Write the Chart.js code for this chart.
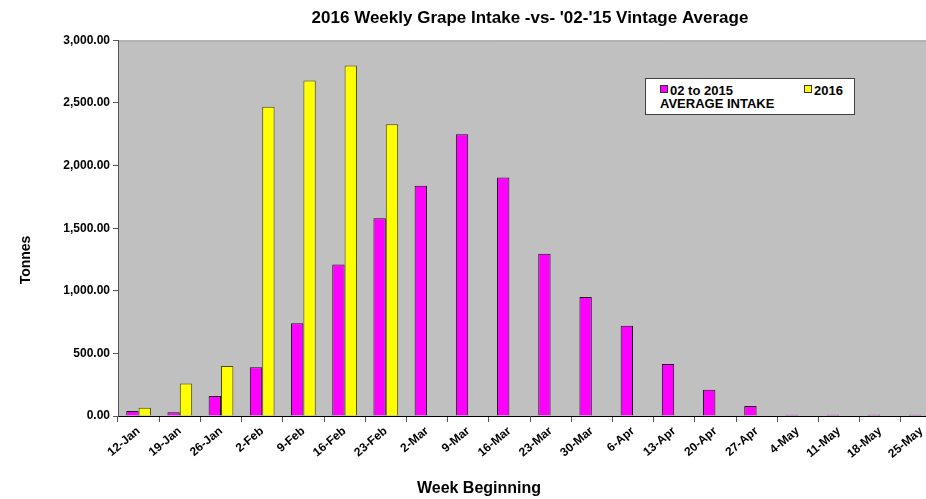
<!DOCTYPE html>
<html>
<head>
<meta charset="utf-8">
<script src="https://cdn.jsdelivr.net/npm/chart.js@4"></script>
<style>
  body { margin: 0; background: #fff; overflow: hidden; }
  #wrap { position: relative; width: 926px; height: 499px; overflow: hidden; }
  #legend {
    position: absolute; left: 645px; top: 78px; width: 208px; height: 35px;
    background: #fff; border: 1px solid #404040;
    font: bold 13px "Liberation Sans", Arial, sans-serif; color: #000;
  }
  #legend .item { position: absolute; top: 5px; line-height: 13px; }
  #legend .sw { display: inline-block; width: 6px; height: 6px; border: 1px solid #333; margin-right: 2px; vertical-align: 2px; }
</style>
</head>
<body>
<div id="wrap">
  <canvas id="chart" width="942" height="499"></canvas>
  <div id="legend"></div>
</div>
<script>
const weeks = ["12-Jan", "19-Jan", "26-Jan", "2-Feb", "9-Feb", "16-Feb", "23-Feb", "2-Mar", "9-Mar",
  "16-Mar", "23-Mar", "30-Mar", "6-Apr", "13-Apr", "20-Apr", "27-Apr", "4-May", "11-May", "18-May", "25-May"];
const avgIntake = [40, 30, 160, 390, 740, 1210, 1580, 1840, 2250, 1905, 1295, 950, 720, 415, 210, 80, 10, 10, 10, 10];
const intake2016 = [65, 260, 400, 2470, 2680, 2800, 2330, null, null, null, null, null, null, null, null, null, null, null, null, null];
const yTicks = [0, 500, 1000, 1500, 2000, 2500, 3000];

const avgLabel = ["02 to 2015", "AVERAGE INTAKE"];
const label2016 = "2016";
const magenta = "#FF00FF";
const yellow = "#FFFF00";

const font = "'Liberation Sans', Arial, sans-serif";

// grey plot background + axis titles placed like the original
const plotBg = {
  id: "plotBg",
  beforeDraw(chart) {
    const { ctx, chartArea: a } = chart;
    ctx.save();
    ctx.fillStyle = "#C0C0C0";
    ctx.fillRect(a.left, a.top, a.right - a.left, a.bottom - a.top);
    ctx.strokeStyle = "#9a9a9a";
    ctx.lineWidth = 1;
    ctx.beginPath();
    ctx.moveTo(a.left, a.top + 0.5);
    ctx.lineTo(a.right, a.top + 0.5);
    ctx.stroke();
    ctx.restore();
  },
  afterDraw(chart) {
    const { ctx, chartArea: a } = chart;
    ctx.save();
    ctx.fillStyle = "#000";
    ctx.font = "bold 16px " + font;
    ctx.textAlign = "center";
    ctx.textBaseline = "middle";
    ctx.fillText("Week Beginning", 479, 489);
    ctx.font = "bold 14px " + font;
    ctx.translate(26, 260);
    ctx.rotate(-Math.PI / 2);
    ctx.fillText("Tonnes", 0, 0);
    ctx.restore();
  }
};

const chart = new Chart(document.getElementById("chart"), {
  type: "bar",
  data: {
    labels: weeks,
    datasets: [{
      label: avgLabel,
      data: avgIntake,
      backgroundColor: magenta,
      borderColor: "#1a0a20",
      borderWidth: 1
    }, {
      label: label2016,
      data: intake2016,
      backgroundColor: yellow,
      borderColor: "#4a4a10",
      borderWidth: 1
    }]
  },
  options: {
    responsive: false,
    animation: false,
    layout: { padding: 0 },
    datasets: { bar: { categoryPercentage: 0.6, barPercentage: 1.0 } },
    plugins: {
      legend: { display: false },
      tooltip: { enabled: false },
      title: {
        display: true,
        fullSize: false,
        text: "2016 Weekly Grape Intake -vs- '02-'15 Vintage Average",
        color: "#000",
        font: { family: font, size: 17, weight: "bold" },
        padding: { top: 8, bottom: 12 }
      }
    },
    scales: {
      x: {
        afterFit(s) { s.height = 83; },
        grid: { drawOnChartArea: false, tickLength: 6, color: "#555", offset: true },
        border: { color: "#000", width: 1 },
        ticks: {
          color: "#000",
          font: { family: font, size: 12, weight: "bold" },
          minRotation: 40, maxRotation: 40, autoSkip: false, padding: 2
        }
      },
      y: {
        min: 0, max: 3000,
        afterFit(s) { s.width = 118; },
        afterBuildTicks(s) { s.ticks = yTicks.map(v => ({ value: v })); },
        grid: { drawOnChartArea: false, tickLength: 5, color: "#555" },
        border: { color: "#555", width: 1 },
        ticks: {
          color: "#000",
          padding: 3,
          font: { family: font, size: 12, weight: "bold" },
          callback: v => v.toLocaleString("en-US", { minimumFractionDigits: 2, maximumFractionDigits: 2 })
        }
      }
    }
  },
  plugins: [plotBg]
});

// legend box like the original, built from the datasets
const legend = document.getElementById("legend");
const lefts = [14, 158];
chart.data.datasets.forEach((ds, i) => {
  const item = document.createElement("div");
  item.className = "item";
  item.style.left = lefts[i] + "px";
  const lines = Array.isArray(ds.label) ? ds.label : [ds.label];
  item.innerHTML = '<span class="sw" style="background:' + ds.backgroundColor + '"></span>' +
    lines.join("<br>");
  legend.appendChild(item);
});
</script>
</body>
</html>
